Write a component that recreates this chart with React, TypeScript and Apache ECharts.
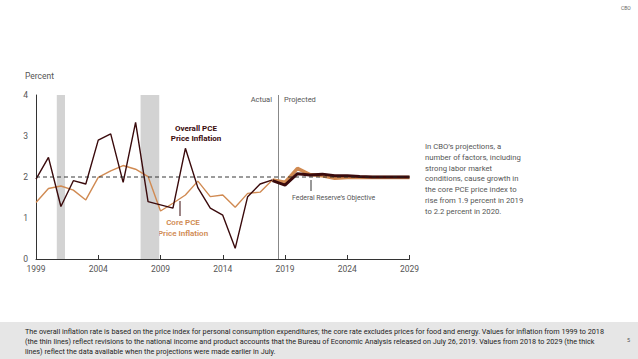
import React, { useEffect, useRef } from "react";
import * as echarts from "echarts";

const years = [1999, 2000, 2001, 2002, 2003, 2004, 2005, 2006, 2007, 2008, 2009, 2010, 2011, 2012, 2013, 2014, 2015, 2016, 2017, 2018];
const overallActual = [1.95, 2.48, 1.28, 1.91, 1.83, 2.9, 3.05, 1.87, 3.33, 1.4, 1.32, 1.24, 2.7, 1.74, 1.24, 1.07, 0.26, 1.52, 1.83, 1.93];
const coreActual = [1.38, 1.72, 1.78, 1.68, 1.44, 1.99, 2.15, 2.28, 2.19, 2.01, 1.17, 1.36, 1.56, 1.9, 1.52, 1.56, 1.26, 1.6, 1.63, 1.93];
const projYears = [2018, 2019, 2020, 2021, 2022, 2023, 2024, 2025, 2026, 2027, 2028, 2029];
const overallProj = [1.91, 1.8, 2.08, 2.05, 2.07, 2.03, 2.03, 2.01, 2.0, 2.0, 2.0, 2.0];
const coreProj = [1.93, 1.87, 2.21, 2.06, 2.03, 1.97, 1.99, 1.99, 1.99, 1.99, 1.99, 1.99];
const recessions = [[2000.67, 2001.33], [2007.4, 2008.9]];
const fedObjective = 2;
const divider = 2018.47;
const xTickYears = [1999, 2004, 2009, 2014, 2019, 2024, 2029];
const yTicks = [0, 1, 2, 3, 4];

const base = 1999;
const toX = (y: number) => y - base;

const FONT = "'Liberation Sans Narrow', 'Roboto', sans-serif";

export default function App() {
  const ref = useRef<HTMLDivElement>(null);
  useEffect(() => {
    if (!ref.current) return;
    const chart = echarts.init(ref.current, undefined, { renderer: "svg" });
    const pair = (ys: number[], vs: number[]) => ys.map((y, i) => [toX(y), vs[i]]);
    chart.setOption({
      animation: false,
      backgroundColor: "#ffffff",
      textStyle: { fontFamily: FONT },
      grid: { left: 36, right: 228.5, top: 95, bottom: 100 },
      xAxis: {
        type: "value",
        min: 0,
        max: 30,
        interval: 5,
        axisLine: { show: true, lineStyle: { color: "#333", width: 1 } },
        axisTick: { show: true, inside: true, length: 4, lineStyle: { color: "#333" } },
        axisLabel: {
          color: "#555",
          fontSize: 8.5,
          fontFamily: FONT,
          margin: 5,
          formatter: (v: number) => (xTickYears.includes(v + base) ? String(v + base) : ""),
        },
        splitLine: { show: false },
      },
      yAxis: {
        type: "value",
        min: yTicks[0],
        max: yTicks[yTicks.length - 1],
        interval: 1,
        axisLine: { show: true, lineStyle: { color: "#333", width: 1 } },
        axisTick: { show: false },
        axisLabel: { color: "#555", fontSize: 8.5, fontFamily: FONT, margin: 8 },
        splitLine: { show: false },
      },
      series: [
        {
          type: "line",
          data: pair(years, coreActual),
          symbol: "none",
          lineStyle: { color: "#d08a52", width: 1.4 },
          z: 3,
          markArea: {
            silent: true,
            itemStyle: { color: "#d3d3d3" },
            data: recessions.map((r) => [{ xAxis: toX(r[0]) }, { xAxis: toX(r[1]) }]),
          },
          markLine: {
            silent: true,
            symbol: "none",
            label: { show: false },
            lineStyle: { color: "#888", type: "solid", width: 1 },
            data: [{ xAxis: toX(divider) }],
          },
        },
        {
          type: "line",
          data: pair(years, overallActual),
          symbol: "none",
          lineStyle: { color: "#3a0a0c", width: 1.4 },
          z: 4,
        },
        {
          type: "line",
          data: pair(projYears, coreProj),
          symbol: "none",
          lineStyle: { color: "#d08a52", width: 3.5 },
          z: 5,
        },
        {
          type: "line",
          data: pair(projYears, overallProj),
          symbol: "none",
          lineStyle: { color: "#3a0a0c", width: 3 },
          z: 6,
        },
        {
          type: "line",
          data: [[0, fedObjective], [30, fedObjective]],
          symbol: "none",
          lineStyle: { color: "#222", width: 0.9, type: [4, 3] },
          z: 7,
        },
      ],
      graphic: [
        { type: "text", left: 25, top: 71, style: { text: "Percent", fill: "#555", font: `8.5px ${FONT}` } },
        { type: "text", x: 621, y: 5, style: { text: "CBO", fill: "#666", font: `5px ${FONT}` } },
        {
          type: "text",
          x: 196,
          y: 123,
          style: {
            text: "Overall PCE\nPrice Inflation",
            fill: "#3a0a0c",
            font: `bold 8px ${FONT}`,
            align: "center",
            lineHeight: 10,
          },
        },
        {
          type: "text",
          x: 183,
          y: 217,
          style: {
            text: "Core PCE\nPrice Inflation",
            fill: "#d08a52",
            font: `600 8px ${FONT}`,
            align: "center",
            lineHeight: 11,
          },
        },
        { type: "line", shape: { x1: 180, y1: 201, x2: 180, y2: 216 }, style: { stroke: "#3a0a0c", lineWidth: 1 } },
        {
          type: "text",
          x: 272,
          y: 95,
          style: { text: "Actual", fill: "#555", font: `7.5px ${FONT}`, align: "right" },
        },
        {
          type: "text",
          x: 284,
          y: 95,
          style: { text: "Projected", fill: "#555", font: `7.5px ${FONT}`, align: "left" },
        },
        { type: "line", shape: { x1: 311, y1: 180, x2: 311, y2: 191 }, style: { stroke: "#333", lineWidth: 1 } },
        {
          type: "text",
          x: 292,
          y: 194,
          style: { text: "Federal Reserve\u2019s Objective", fill: "#555", font: `6.9px ${FONT}` },
        },
        {
          type: "text",
          x: 425,
          y: 141,
          style: {
            text: "In CBO\u2019s projections, a\nnumber of factors, including\nstrong labor market\nconditions, cause growth in\nthe core PCE price index to\nrise from 1.9 percent in 2019\nto 2.2 percent in 2020.",
            fill: "#555",
            font: `7.7px ${FONT}`,
            lineHeight: 10.8,
          },
        },
        { type: "rect", shape: { x: 0, y: 322, width: 638, height: 37 }, style: { fill: "#e6e6e6" } },
        {
          type: "text",
          x: 25,
          y: 326,
          style: {
            text: "The overall inflation rate is based on the price index for personal consumption expenditures; the core rate excludes prices for food and energy. Values for inflation from 1999 to 2018\n(the thin lines) reflect revisions to the national income and product accounts that the Bureau of Economic Analysis released on July 26, 2019. Values from 2018 to 2029 (the thick\nlines) reflect the data available when the projections were made earlier in July.",
            fill: "#222",
            font: `7.25px ${FONT}`,
            lineHeight: 10,
          },
        },
        { type: "text", x: 627, y: 337, style: { text: "5", fill: "#555", font: `5.5px ${FONT}` } },
      ],
    });
    return () => chart.dispose();
  }, []);
  return <div ref={ref} style={{ width: 638, height: 359, position: "absolute", left: 0, top: 0 }} />;
}
